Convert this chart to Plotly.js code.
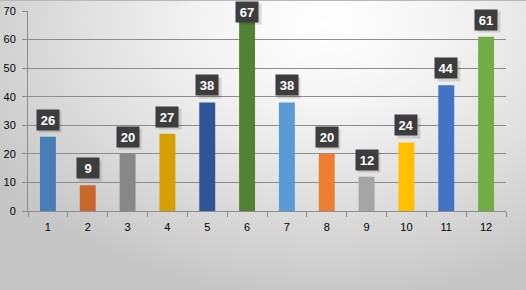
<!DOCTYPE html>
<html>
<head>
<meta charset="utf-8">
<script src="https://cdn.plot.ly/plotly-3.0.1.min.js"></script>
<style>
html,body{margin:0;padding:0;}
#chart{width:526px;height:290px;box-sizing:border-box;border-top:1px solid #b8b8b8;
background:radial-gradient(ellipse 75% 95% at 62% 8%, #ffffff 0%, #f4f4f4 30%, #dedede 65%, #c6c6c6 100%);}
</style>
</head>
<body>
<div id="chart"></div>
<script>
var categories = ['1','2','3','4','5','6','7','8','9','10','11','12'];
var values = [26, 9, 20, 27, 38, 67, 38, 20, 12, 24, 44, 61];
var barColors = ['#487eb5','#c9682c','#888888','#d6a100','#2f5597','#548235',
                 '#5b9bd5','#ed7d31','#a5a5a5','#ffc000','#4472c4','#70ad47'];
var yTicks = [0,10,20,30,40,50,60,70];

var W = 526, H = 289;
var mT = 10, mB = 79, mL = 28, mR = 20;
var plotH = H - mT - mB;
var yMax = 70;
var boxH = 20;

var annotations = [];
categories.forEach(function(c, i){
  var v = values[i];
  var topPx = mT + (1 - v / yMax) * plotH;
  var ys = Math.min(6, topPx - 1 - boxH - 1);
  annotations.push({
    x: i, y: v, xref: 'x', yref: 'y', yanchor: 'bottom', xanchor: 'center',
    text: '', showarrow: false, width: 22, height: boxH,
    bgcolor: 'rgba(0,0,0,0.13)', xshift: 2.5, yshift: ys - 2.5, borderpad: 0
  });
  annotations.push({
    x: i, y: v, xref: 'x', yref: 'y', yanchor: 'bottom', xanchor: 'center',
    text: '<b>' + v + '</b>', showarrow: false, width: 22, height: boxH,
    bgcolor: '#3d3d3d', borderpad: 0, yshift: ys,
    font: {family: 'Liberation Sans, Arial, sans-serif', size: 13, color: '#ffffff'}
  });
});

var trace = {
  type: 'bar', x: categories, y: values,
  marker: {color: barColors, line: {width: 0}},
  hoverinfo: 'none'
};

var layout = {
  width: W, height: H,
  margin: {l: mL, r: mR, t: mT, b: mB, pad: 0},
  paper_bgcolor: 'rgba(0,0,0,0)', plot_bgcolor: 'rgba(0,0,0,0)',
  showlegend: false, bargap: 0.6,
  font: {family: 'Liberation Sans, Arial, sans-serif', size: 11, color: '#000000'},
  xaxis: {
    type: 'category', range: [-0.5, 11.5], tickson: 'boundaries',
    ticks: 'outside', ticklen: 5, tickcolor: '#8c8c8c', tickwidth: 1,
    showline: true, linecolor: '#8c8c8c', linewidth: 1,
    showgrid: false, zeroline: false, ticklabelstandoff: 6,
    tickfont: {size: 11, color: '#000'}
  },
  yaxis: {
    range: [0, yMax], tickvals: yTicks, ticktext: yTicks.map(String),
    ticks: 'outside', ticklen: 5, tickcolor: '#8c8c8c',
    showline: true, linecolor: '#8c8c8c', linewidth: 1,
    showgrid: true, gridcolor: '#8c8c8c', gridwidth: 1, zeroline: false,
    ticklabelstandoff: 4,
    tickfont: {size: 11, color: '#000'}
  },
  annotations: annotations
};

Plotly.newPlot('chart', [trace], layout, {displayModeBar: false, staticPlot: true});
</script>
</body>
</html>
